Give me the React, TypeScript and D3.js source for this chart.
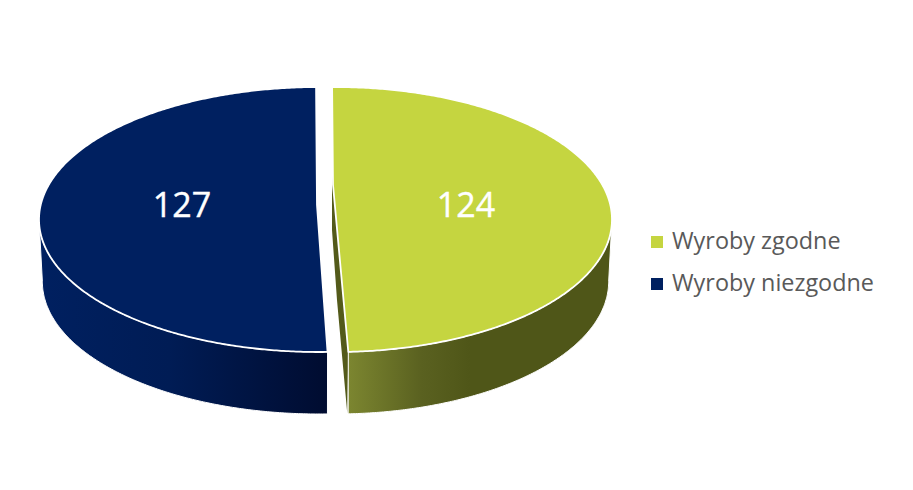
import React from "react";
import * as d3 from "d3";

const categories = ["Wyroby zgodne", "Wyroby niezgodne"];
const values = [124, 127];
const topColors = ["#c5d540", "#002060"];
const W = 913, H = 490;
const RAD = Math.PI / 180;

// layout of each exploded, tilted slice
const centers = [{ x: 335, y: 219.5, rx: 277, ry: 132.5 }, { x: 319, y: 219.5, rx: 280, ry: 132.5 }];
const apexes = [{ x: 333, y: 185 }, { x: 317, y: 205 }];
const trimStart = [0, 1 * RAD];
const startAngle = -0.6 * RAD;
const depth = 62;
const bottomShrink = 0.988; // the lower rim is slightly narrower through perspective

const pieGen = d3.pie<number>().sort(null).startAngle(startAngle).endAngle(startAngle + 2 * Math.PI);
const arcs = pieGen(values);
const lineGen = d3.line<[number, number]>().x(d => d[0]).y(d => d[1]);

function pt(i: number, a: number, dy = 0): [number, number] {
  const c = centers[i];
  const k = dy ? bottomShrink : 1;
  return [c.x + c.rx * k * Math.sin(a), c.y - c.ry * Math.cos(a) + dy];
}
function sample(i: number, a0: number, a1: number, dy = 0): [number, number][] {
  const n = Math.max(2, Math.ceil(Math.abs(a1 - a0) / (0.5 * RAD)));
  return d3.range(n + 1).map(k => pt(i, a0 + ((a1 - a0) * k) / n, dy));
}
const closed = (pts: [number, number][]) => lineGen(pts) + "Z";

const slices = arcs.map((s, i) => ({ a0: s.startAngle + trimStart[i], a1: s.endAngle }));

const topPath = (i: number) =>
  closed([[apexes[i].x, apexes[i].y], ...sample(i, slices[i].a0, slices[i].a1)]);

// visible outer wall: green runs from the right extreme to its end, blue from its start to the left extreme
const wallRange = [[Math.PI / 2, slices[0].a1], [slices[1].a0, 1.5 * Math.PI]];
const wallPath = (i: number) => {
  const [a, b] = wallRange[i];
  return closed([...sample(i, a, b), ...sample(i, b, a, depth)]);
};

// the cut face of the green slice that shows in the gap
const e = pt(0, slices[0].a1);
const cutPath = closed([
  [apexes[0].x - 1, apexes[0].y - 55],
  [apexes[0].x - 1, apexes[0].y + 45],
  [apexes[0].x + 4, apexes[0].y + 115],
  [e[0] - 1, e[1] + depth],
  [e[0], e[1]],
  [apexes[0].x, apexes[0].y],
]);

const labelX = [466, 182];
const labelY = [217, 217];
const legendY = [242, 284];

export default function App() {
  return (
    <svg width={W} height={H} viewBox={`0 0 ${W} ${H}`} style={{ position: "absolute", left: 0, top: 0, background: "#fff" }}>
      <defs>
        <linearGradient id="gw" gradientUnits="userSpaceOnUse" x1={348} x2={470} y1={0} y2={0}>
          <stop offset="0" stopColor="#7c8630" />
          <stop offset="0.6" stopColor="#5a6120" />
          <stop offset="1" stopColor="#4f5618" />
        </linearGradient>
        <linearGradient id="bw" gradientUnits="userSpaceOnUse" x1={39} x2={328} y1={0} y2={0}>
          <stop offset="0" stopColor="#002060" />
          <stop offset="0.45" stopColor="#001c55" />
          <stop offset="1" stopColor="#000c30" />
        </linearGradient>
      </defs>
      <path d={cutPath} fill="#535a1a" />
      {categories.map((c, i) => (
        <g key={c}>
          <path d={wallPath(i)} fill={`url(#${i === 0 ? "gw" : "bw"})`} stroke="#fff" strokeWidth={1} />
          <path d={topPath(i)} fill={topColors[i]} stroke="#fff" strokeWidth={1.8} strokeLinejoin="round" />
          <text x={labelX[i]} y={labelY[i]} textAnchor="middle" fill="#fff" stroke="#fff" strokeWidth={0.4} fontFamily="'Open Sans'" fontSize={34}>{values[i]}</text>
          <rect x={651} y={legendY[i] - 6} width={12} height={12} fill={topColors[i]} />
          <text x={672} y={legendY[i] + 7} fill="#595959" fontFamily="'Open Sans'" fontSize={23.4}>{c}</text>
        </g>
      ))}
    </svg>
  );
}
